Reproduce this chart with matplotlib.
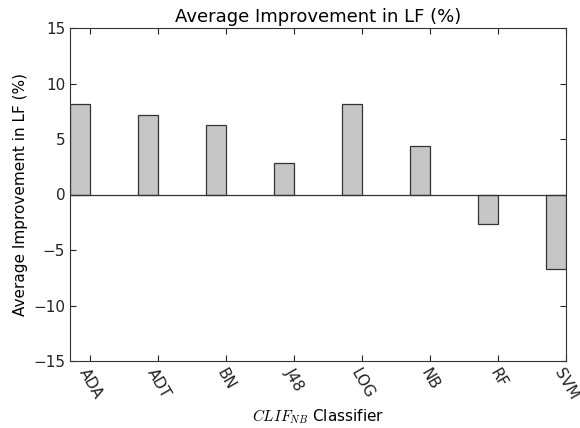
import matplotlib
matplotlib.use("Agg")
import matplotlib.pyplot as plt

plt.rcParams['mathtext.fontset'] = 'cm'

classifiers = ["ADA", "ADT", "BN", "J48", "LOG", "NB", "RF", "SVM"]
improvement = [8.15, 7.2, 6.3, 2.8, 8.15, 4.35, -2.65, -6.7]

fig = plt.figure(figsize=(5.8, 4.28), dpi=100)
ax = fig.add_axes([70/580, 67/428, 496/580, 333/428])

x = list(range(len(classifiers)))
ax.bar(x, improvement, width=-0.3, align='edge', color='#c6c6c6',
       edgecolor='#333333', linewidth=0.9, zorder=2)
ax.axhline(0, color='#333333', linewidth=0.9, zorder=3)

ax.set_xlim(-0.3, 7)
ax.set_ylim(-15, 15)
ax.set_yticks([-15, -10, -5, 0, 5, 10, 15])
ax.set_xticks(x)
ax.set_xticklabels(classifiers, rotation=-60, ha='center', va='top',
                   fontsize=11)
ax.tick_params(direction='in', top=True, right=True, labelsize=11,
               colors='#222222', length=4)
for s in ax.spines.values():
    s.set_color('#333333')

ax.set_title("Average Improvement in LF (%)", fontsize=13, pad=4)
ax.set_ylabel("Average Improvement in LF (%)", fontsize=11)
ax.set_xlabel(r"$CLIF_{NB}$ Classifier", fontsize=11)

fig.savefig("out.png", dpi=100)
